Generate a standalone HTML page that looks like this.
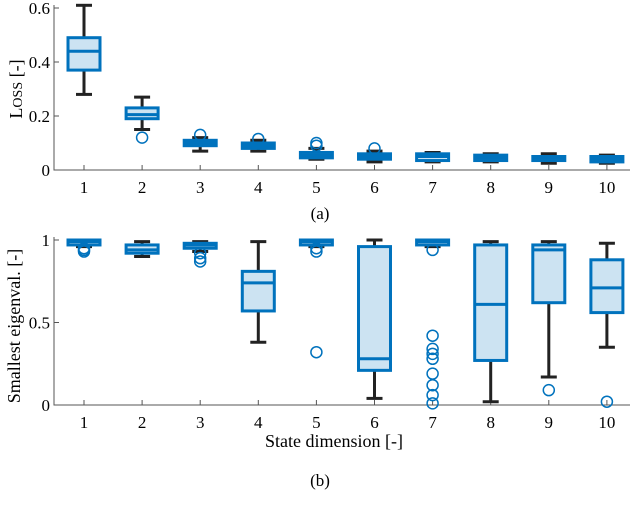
<!DOCTYPE html>
<html><head><meta charset="utf-8"><style>
html,body{margin:0;padding:0;background:#fff;width:640px;height:512px;overflow:hidden}
svg{font-family:"Liberation Serif",serif}
</style></head><body>
<svg id="fig" width="640" height="512" viewBox="0 0 640 512">
<g id="top"></g>
<g id="bot"></g>
<text x="320" y="219" text-anchor="middle" font-size="17">(a)</text>
<text x="334" y="447" text-anchor="middle" font-size="18">State dimension [-]</text>
<text x="320" y="486" text-anchor="middle" font-size="17">(b)</text>
<text transform="translate(22,89) rotate(-90)" text-anchor="middle" font-size="18">L<tspan font-size="14">OSS</tspan> [-]</text>
<text transform="translate(20,326) rotate(-90)" text-anchor="middle" font-size="18">Smallest eigenval. [-]</text>
</svg>
<script>
const categories=[1,2,3,4,5,6,7,8,9,10];
const lossQ1=[0.37,0.19,0.09,0.08,0.045,0.04,0.035,0.035,0.035,0.03];
const lossMed=[0.44,0.205,0.10,0.09,0.055,0.05,0.05,0.045,0.045,0.04];
const lossQ3=[0.49,0.23,0.11,0.10,0.065,0.06,0.06,0.055,0.05,0.05];
const lossLo=[0.28,0.15,0.07,0.07,0.04,0.03,0.03,0.03,0.025,0.025];
const lossHi=[0.61,0.27,0.12,0.11,0.08,0.07,0.065,0.06,0.06,0.055];
const lossOut=[[],[0.12],[0.13],[0.115],[0.09,0.1],[0.08],[],[],[],[]];
const lossTicks=[0,0.2,0.4,0.6];
const eigQ1=[0.97,0.92,0.95,0.57,0.97,0.21,0.97,0.27,0.62,0.56];
const eigMed=[0.99,0.94,0.97,0.74,0.99,0.28,0.99,0.61,0.94,0.71];
const eigQ3=[1.0,0.97,0.98,0.81,1.0,0.96,1.0,0.97,0.97,0.88];
const eigLo=[0.96,0.90,0.93,0.38,0.96,0.04,0.96,0.02,0.17,0.35];
const eigHi=[1.0,0.99,0.99,0.99,1.0,1.0,1.0,0.99,0.99,0.98];
const eigOut=[[0.93,0.94,0.95],[],[0.87,0.89,0.92],[],[0.93,0.95,0.32],[],[0.94,0.42,0.34,0.31,0.28,0.19,0.12,0.06,0.01],[],[0.09],[0.02]];
const eigTicks=[0,0.5,1];
const eigTickLabels=["0","0.5","1"];
const NS="http://www.w3.org/2000/svg";
function mk(p,tag,a){const e=document.createElementNS(NS,tag);for(const k in a)e.setAttribute(k,a[k]);p.appendChild(e);return e;}
function draw(g,cfg){
  const xs=c=>84+(c-1)*58.1;
  const ys=v=>cfg.y0+(v-cfg.ymin)/(cfg.ymax-cfg.ymin)*(cfg.y1-cfg.y0);
  let ax=mk(g,'path',{d:`M54,${cfg.y1-3}V${cfg.y0}H630`,fill:'none',stroke:'#555','stroke-width':1});
  
  
  cfg.ticks.forEach((t,i)=>{
    const y=ys(t);
    const tk=mk(g,'line',{x1:54,x2:59,y1:y,y2:y,stroke:'#555'});
    
    
    const tl=mk(g,'text',{x:50,y:y+6,'text-anchor':'end','font-size':17});
    tl.textContent=cfg.tl[i];
    
    
  });
  categories.forEach((c,i)=>{
    const x=xs(c);
    const tk=mk(g,'line',{x1:x,x2:x,y1:cfg.y0,y2:cfg.y0-5,stroke:'#555'});
    
    
    const tl=mk(g,'text',{x:x,y:cfg.y0+23,'text-anchor':'middle','font-size':17});
    tl.textContent=String(c);
    
    
    const bx=mk(g,'g',{});
    
    
    const hi=ys(cfg.hi[i]),lo=ys(cfg.lo[i]),q1=ys(cfg.q1[i]),q3=ys(cfg.q3[i]),md=ys(cfg.med[i]);
    mk(bx,'line',{x1:x,x2:x,y1:hi,y2:lo,stroke:'#222','stroke-width':3});
    mk(bx,'line',{x1:x-8,x2:x+8,y1:hi,y2:hi,stroke:'#222','stroke-width':3});
    mk(bx,'line',{x1:x-8,x2:x+8,y1:lo,y2:lo,stroke:'#222','stroke-width':3});
    mk(bx,'rect',{x:x-16,y:q3,width:32,height:Math.max(q1-q3,0.5),fill:'#cce3f2',stroke:'#0072BD','stroke-width':3});
    mk(bx,'line',{x1:x-16,x2:x+16,y1:md,y2:md,stroke:'#0072BD','stroke-width':3});
    cfg.out[i].forEach(v=>{
      const o=mk(bx,'circle',{cx:x,cy:ys(v),r:5.5,fill:'none',stroke:'#0072BD','stroke-width':1.5});
      
      
    });
  });
}
draw(document.getElementById('top'),{y0:170,y1:8,ymin:0,ymax:0.6,ticks:lossTicks,tl:lossTicks.map(String),q1:lossQ1,med:lossMed,q3:lossQ3,lo:lossLo,hi:lossHi,out:lossOut});
draw(document.getElementById('bot'),{y0:405,y1:240,ymin:0,ymax:1,ticks:eigTicks,tl:eigTickLabels,q1:eigQ1,med:eigMed,q3:eigQ3,lo:eigLo,hi:eigHi,out:eigOut});
</script>
</body></html>
